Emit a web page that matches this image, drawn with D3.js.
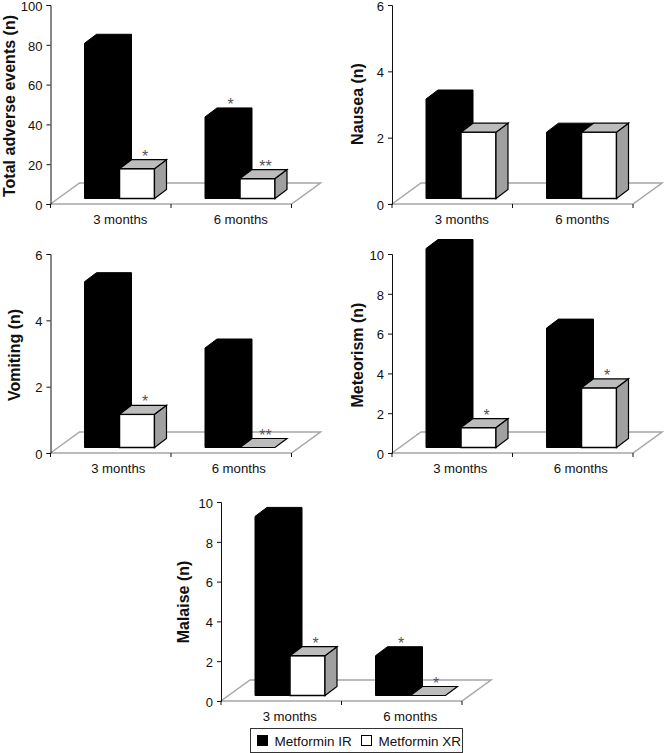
<!DOCTYPE html>
<html>
<head>
<meta charset="utf-8">
<script src="https://cdn.jsdelivr.net/npm/d3@7"></script>
<style>
  body { margin: 0; background: #fff; }
  text { font-family: "Liberation Sans", Arial, sans-serif; fill: #111; }
</style>
</head>
<body>
<svg id="chart" width="664" height="753"></svg>
<script>
var months = ["3 months", "6 months"]
var seriesNames = ["Metformin IR", "Metformin XR"]

// [3 months, 6 months]
var totalIR = [78, 41], totalXR = [15, 10]
var nauseaIR = [3, 2], nauseaXR = [2, 2]
var vomitingIR = [5, 3], vomitingXR = [1, 0]
var meteorismIR = [10, 6], meteorismXR = [1, 3]
var malaiseIR = [9, 2], malaiseXR = [2, 0]

// significance marks, same order
var totalStarsIR = ["", "*"], totalStarsXR = ["*", "**"]
var nauseaStarsIR = ["", ""], nauseaStarsXR = ["", ""]
var vomitingStarsIR = ["", ""], vomitingStarsXR = ["*", "**"]
var meteorismStarsIR = ["", ""], meteorismStarsXR = ["*", "*"]
var malaiseStarsIR = ["", "*"], malaiseStarsXR = ["*", "*"]

var totalTicks = [0, 20, 40, 60, 80, 100]
var sixTicks = [0, 2, 4, 6]
var tenTicks = [0, 2, 4, 6, 8, 10]

var svg = d3.select("#chart")

var plotW = 241, plotH = 199
var depthX = 12, depthY = 9     // 3d offset of the bars
var floorX = 29, floorY = 21    // 3d offset of the floor
var baseGap = 5.5               // bars stand a little above the front edge

function drawPanel(p){
  var g = svg.append("g").attr("transform", "translate(" + p.x + "," + p.y + ")")

  var x = d3.scaleBand().domain(months).range([0, plotW])
  var inner = d3.scaleBand().domain([0, 1]).range([34, 104])
  var y = d3.scaleLinear().domain([0, p.max]).range([plotH, 0])

  // floor
  g.append("path")
    .attr("d", "M0," + plotH + "L" + floorX + "," + (plotH - floorY) + "H" + (plotW + floorX) + "L" + plotW + "," + plotH + "Z")
    .attr("fill", "#fff")
    .attr("stroke", "#a6a6a6")
    .attr("stroke-width", 1.5)

  var yAxis = d3.axisLeft(y).tickValues(p.ticks).tickSize(4).tickPadding(4).tickFormat(d3.format("d"))
  var ya = g.append("g").call(yAxis)
  ya.selectAll("text").style("font-size", "13px").attr("dy", "0.4em")
  ya.selectAll("path, line").attr("stroke", "#111")

  var xAxis = d3.axisBottom(x).tickSize(0).tickPadding(11)
  var xa = g.append("g").attr("transform", "translate(0," + plotH + ")").call(xAxis)
  xa.select("path").remove()
  xa.selectAll("text").style("font-size", "13.2px").attr("x", p.labelDx)

  g.selectAll(".sep").data(d3.range(months.length + 1)).enter().append("line")
    .attr("class", "sep")
    .attr("x1", function(d){ return d * x.step() })
    .attr("x2", function(d){ return d * x.step() })
    .attr("y1", plotH).attr("y2", plotH + 4)
    .attr("stroke", "#111")

  months.forEach(function(m, i){
    [p.ir, p.xr].forEach(function(values, s){
      var left = x(m) + inner(s)
      var w = inner.bandwidth()
      var right = left + w
      var bottom = y(0) - baseGap
      var top = y(values[i]) - baseGap
      var bar = g.append("g")

      if (s == 0){
        bar.append("path")
          .attr("d", "M" + left + "," + bottom + "V" + top + "L" + (left + depthX) + "," + (top - depthY) + "H" + (right + depthX) + "V" + (bottom - depthY) + "L" + right + "," + bottom + "Z")
          .attr("fill", "#000").attr("stroke", "#000")
      } else {
        if (values[i] > 0){
          bar.append("rect")
            .attr("x", left).attr("y", top).attr("width", w).attr("height", bottom - top)
            .attr("fill", "#fff").attr("stroke", "#000").attr("stroke-width", 1.5)
          bar.append("path")
            .attr("d", "M" + right + "," + bottom + "V" + top + "L" + (right + depthX) + "," + (top - depthY) + "V" + (bottom - depthY) + "Z")
            .attr("fill", "#a0a0a0").attr("stroke", "#000").attr("stroke-width", 1.2)
        }
        bar.append("path")
          .attr("d", "M" + left + "," + top + "L" + (left + depthX) + "," + (top - depthY) + "H" + (right + depthX) + "L" + right + "," + top + "Z")
          .attr("fill", "#bcbcbc").attr("stroke", "#000").attr("stroke-width", 1.2)
      }

      var stars = (s == 0 ? p.starsIR : p.starsXR)[i]
      if (stars){
        bar.append("text")
          .attr("x", left + w / 2 + depthX / 2 + 2)
          .attr("y", top - depthY + 2)
          .attr("text-anchor", "middle")
          .style("font-size", "16px")
          .style("fill", "#555")
          .text(stars)
      }
    })
  })

  svg.append("text")
    .attr("transform", "translate(" + p.titleX + "," + p.titleY + ") rotate(-90)")
    .attr("text-anchor", "middle")
    .style("font-size", "16px")
    .style("font-weight", "bold")
    .text(p.title)
}

var panels = [
  {title: "Total adverse events (n)", ir: totalIR, xr: totalXR, starsIR: totalStarsIR, starsXR: totalStarsXR, max: 100, ticks: totalTicks, x: 50.5, y: 5, titleX: 14.5, titleY: 106, labelDx: 9.5},
  {title: "Nausea (n)", ir: nauseaIR, xr: nauseaXR, starsIR: nauseaStarsIR, starsXR: nauseaStarsXR, max: 6, ticks: sixTicks, x: 392, y: 5, titleX: 363, titleY: 104, labelDx: 9.5},
  {title: "Vomiting (n)", ir: vomitingIR, xr: vomitingXR, starsIR: vomitingStarsIR, starsXR: vomitingStarsXR, max: 6, ticks: sixTicks, x: 50.5, y: 254, titleX: 20, titleY: 355, labelDx: 7.5},
  {title: "Meteorism (n)", ir: meteorismIR, xr: meteorismXR, starsIR: meteorismStarsIR, starsXR: meteorismStarsXR, max: 10, ticks: tenTicks, x: 392, y: 254, titleX: 363, titleY: 355, labelDx: 8},
  {title: "Malaise (n)", ir: malaiseIR, xr: malaiseXR, starsIR: malaiseStarsIR, starsXR: malaiseStarsXR, max: 10, ticks: tenTicks, x: 221, y: 502, titleX: 189, titleY: 602, labelDx: 8.5}
]
panels.forEach(drawPanel)

// legend
var legend = svg.append("g").attr("transform", "translate(250.5,728.5)")
legend.append("rect").attr("width", 212).attr("height", 24).attr("fill", "#fff").attr("stroke", "#333")
var legendX = d3.scaleOrdinal().domain(seriesNames).range([7, 111])
seriesNames.forEach(function(name, i){
  legend.append("rect")
    .attr("x", legendX(name)).attr("y", 7).attr("width", 10).attr("height", 10)
    .attr("fill", i == 0 ? "#000" : "#fff").attr("stroke", "#000")
  legend.append("text")
    .attr("x", legendX(name) + 17).attr("y", 17)
    .style("font-size", "13.5px")
    .text(name)
})
</script>
</body>
</html>
